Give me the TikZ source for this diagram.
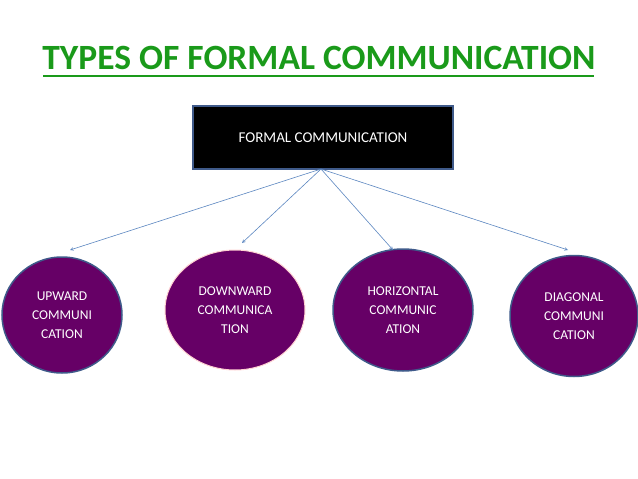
\documentclass[tikz,border=0pt]{standalone}
\usepackage{fontspec}
\setmainfont{Carlito}
\usetikzlibrary{shapes.geometric}
\definecolor{plum}{HTML}{660066}
\definecolor{edgeblue}{HTML}{3F5A8A}
\definecolor{arrowblue}{HTML}{5B86C0}
\definecolor{titlegreen}{HTML}{1A9A1A}
\tikzset{
  oval/.style={ellipse, fill=plum, draw=edgeblue, line width=1.5pt, text=white, font=\fontsize{13.5}{19}\selectfont, align=center, inner sep=0pt},
  conn/.style={draw=arrowblue, line width=0.6pt, ->, >=stealth}
}
\begin{document}
\begin{tikzpicture}[x=1pt,y=-1pt]
\useasboundingbox (0,0) rectangle (638,479);
\node[font=\fontsize{35.5}{38}\bfseries\selectfont, text=titlegreen] (title) at (319,58) {TYPES OF FORMAL COMMUNICATION};
\draw[titlegreen, line width=2pt] (43,76) -- (594,76);
\node[fill=black, draw=edgeblue, line width=1.5pt, minimum width=260pt, minimum height=63pt, text=white, font=\fontsize{15}{18}\selectfont] (top) at (323,137.5) {FORMAL COMMUNICATION};
\coordinate (apex) at (321,169);
\node[oval, minimum width=120pt, minimum height=116pt] (up) at (62,315) {UPWARD\\COMMUNI\\CATION};
\node[oval, draw=pink!70, line width=1pt, minimum width=140pt, minimum height=120pt] (down) at (235,310) {DOWNWARD\\COMMUNICA\\TION};
\node[oval, minimum width=140pt, minimum height=122pt] (hor) at (403,310) {HORIZONTAL\\COMMUNIC\\ATION};
\node[oval, minimum width=128pt, minimum height=121pt] (diag) at (574,316) {DIAGONAL\\COMMUNI\\CATION};
\draw[conn] (apex) -- (70,250);
\draw[conn] (apex) -- (242,243);
\draw[conn] (apex) -- (393,250);
\draw[conn] (apex) -- (568,250);
\end{tikzpicture}
\end{document}
